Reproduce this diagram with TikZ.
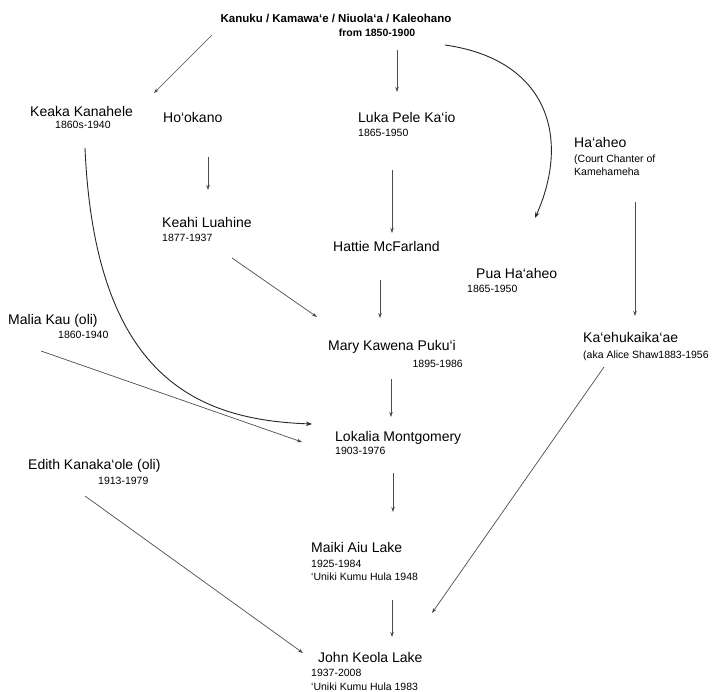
\documentclass[tikz,border=0pt]{standalone}
\usepackage{fontspec}
\setmainfont{Liberation Sans}
\usetikzlibrary{arrows.meta}

\begin{document}
\begin{tikzpicture}[x=1pt,y=-1pt,
    person/.style={anchor=base west,inner sep=0pt,font=\fontsize{14}{16}\selectfont},
    small/.style={anchor=base west,inner sep=0pt,align=left,font=\fontsize{10.5}{13.5}\selectfont},
    arr/.style={line width=0.7pt,black!70,-{Stealth[length=5pt,width=3.5pt]}},
    curvearr/.style={line width=0.9pt,black!85,-{Stealth[length=6pt,width=4.5pt]}}]
        \useasboundingbox (0,0) rectangle (717,692);
        % top
        \node[person,anchor=base,font=\fontsize{11.5}{14}\selectfont\bfseries] (title) at (336,22.5) {Kanuku / Kamawa‘e / Niuola‘a / Kaleohano};
        \node[small,anchor=base,font=\fontsize{10.5}{13}\selectfont\bfseries] (from) at (377,37) {from 1850-1900};
        % people (two-line notes sit on the baseline of their last line)
        \node[person] (keaka) at (30,117) {Keaka Kanahele};
        \node[small] (keakad) at (55,129) {1860s-1940};
        \node[person] (hookano) at (163,123) {Ho‘okano};
        \node[person] (keahi) at (162,228) {Keahi Luahine};
        \node[small] (keahid) at (162,242) {1877-1937};
        \node[person] (luka) at (358,123) {Luka Pele Ka‘io};
        \node[small] (lukad) at (358,137) {1865-1950};
        \node[person] (hattie) at (333,252) {Hattie McFarland};
        \node[person] (haaheo) at (574,148) {Ha‘aheo};
        \node[small] (haaheoc) at (574,176) {(Court Chanter of\\Kamehameha};
        \node[person] (pua) at (476,279) {Pua Ha‘aheo};
        \node[small] (puad) at (467,293) {1865-1950};
        \node[person] (kaehu) at (583,342) {Ka‘ehukaika‘ae};
        \node[small] (kaehud) at (583,358) {(aka Alice Shaw1883-1956};
        \node[person] (malia) at (8,324) {Malia Kau (oli)};
        \node[small] (maliad) at (58,338) {1860-1940};
        \node[person] (edith) at (28,469) {Edith Kanaka‘ole (oli)};
        \node[small] (edithd) at (98,484) {1913-1979};
        \node[person] (mary) at (328,350) {Mary Kawena Puku‘i};
        \node[small,anchor=base east] (maryd) at (463,367) {1895-1986};
        \node[person] (lokalia) at (335,441) {Lokalia Montgomery};
        \node[small] (lokaliad) at (335,454) {1903-1976};
        \node[person] (maiki) at (311,552) {Maiki Aiu Lake};
        \node[small] (maikid) at (311,580.5) {1925-1984\\‘Uniki Kumu Hula 1948};
        \node[person] (john) at (318,662) {John Keola Lake};
        \node[small] (johnd) at (311,690) {1937-2008\\‘Uniki Kumu Hula 1983};
        % lines
        \draw[arr] ([shift={(-124,12.5)}]title.base) -- ([shift={(124,-24)}]keaka.base west);
        \draw[arr] ([shift={(20,13)}]from.base) -- ([shift={(39,-31)}]luka.base west);
        \draw[curvearr] ([shift={(68,8)}]from.base) .. controls (550,60) and (570,140) .. ([shift={(59,-61)}]pua.base west);
        \draw[arr] ([shift={(45,34)}]hookano.base west) -- ([shift={(46,-38)}]keahi.base west);
        \draw[arr] ([shift={(34,33)}]lukad.base west) -- ([shift={(59,-19)}]hattie.base west);
        \draw[arr] ([shift={(70,16)}]keahid.base west) -- ([shift={(-11,-33)}]mary.base west);
        \draw[arr] ([shift={(47,28)}]hattie.base west) -- ([shift={(52,-32)}]mary.base west);
        \draw[arr] ([shift={(61,26)}]haaheoc.base west) -- ([shift={(52,-26)}]kaehu.base west);
        \draw[curvearr] ([shift={(30,19)}]keakad.base west) .. controls (95,380) and (200,420) .. ([shift={(-23,-17)}]lokalia.base west);
        \draw[arr] ([shift={(33,27)}]malia.base west) -- ([shift={(-33,1)}]lokalia.base west);
        \draw[arr] ([shift={(-72,12)}]maryd.base east) -- ([shift={(56,-24)}]lokalia.base west);
        \draw[arr] ([shift={(58,19)}]lokaliad.base west) -- ([shift={(82,-40)}]maiki.base west);
        \draw[arr] ([shift={(81,19.5)}]maikid.base west) -- ([shift={(74,-25)}]john.base west);
        \draw[arr] ([shift={(-13,12)}]edithd.base west) -- ([shift={(-15,-9)}]john.base west);
        \draw[arr] ([shift={(21,9)}]kaehud.base west) -- ([shift={(114,-49)}]john.base west);
\end{tikzpicture}
\end{document}
